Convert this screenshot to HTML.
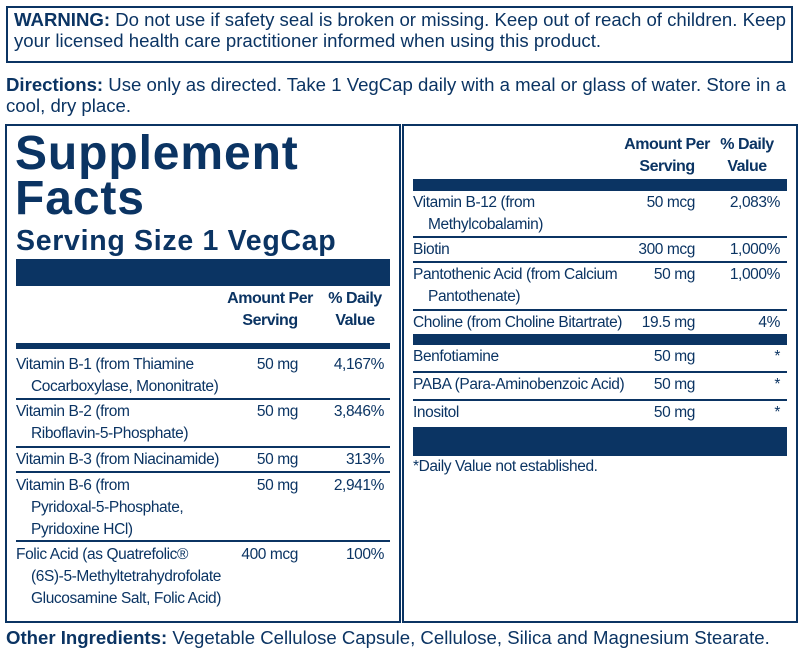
<!DOCTYPE html>
<html><head><meta charset="utf-8"><style>
body{margin:0;width:798px;height:654px;background:#fff;position:relative;overflow:hidden;font-family:"Liberation Sans",sans-serif;color:#0b3463}
.a{position:absolute;white-space:nowrap}
.box{position:absolute;border:2px solid #0b3463;box-sizing:border-box}
.bar{position:absolute;background:#0b3463}
.sep{position:absolute;height:2px;background:#0b3463}
.t{position:absolute;font-size:15.5px;line-height:22px;letter-spacing:-0.4px;white-space:nowrap}
.t i{font-style:normal;display:inline-block;width:15px}
.r{text-align:right}
.h{position:absolute;font-size:16px;line-height:22px;font-weight:bold;text-align:center;letter-spacing:-0.5px;white-space:nowrap}
.big{font-size:18.6px;letter-spacing:0px}
</style></head><body>
<div class="box" style="left:6px;top:6px;width:787px;height:57px"></div>
<div class="a big" style="left:14px;top:9px;line-height:21px"><b>WARNING:</b> Do not use if safety seal is broken or missing. Keep out of reach of children. Keep<br>your licensed health care practitioner informed when using this product.</div>
<div class="a big" style="left:6px;top:74px;line-height:21px"><b>Directions:</b> Use only as directed. Take 1 VegCap daily with a meal or glass of water. Store in a<br>cool, dry place.</div>

<div class="box" style="left:5px;top:124px;width:396px;height:499px"></div>
<div class="box" style="left:402px;top:124px;width:396px;height:499px"></div>

<div class="a" style="left:15px;top:131px;font-size:48px;font-weight:900;line-height:45px;letter-spacing:0.9px">Supplement<br>Facts</div>
<div class="a" style="left:16px;top:225px;font-size:28.5px;font-weight:bold;line-height:32px;letter-spacing:0.7px">Serving Size 1 VegCap</div>
<div class="bar" style="left:16px;top:259px;width:374px;height:27px"></div>
<div class="h" style="left:220px;width:100px;top:288px">Amount Per<br>Serving</div>
<div class="h" style="left:320px;width:70px;top:288px">% Daily<br>Value</div>
<div class="bar" style="left:16px;top:343px;width:374px;height:6px"></div>

<div class="t" style="left:16px;top:354px">Vitamin B-1 (from Thiamine<br><i></i>Cocarboxylase, Mononitrate)</div>
<div class="t r" style="left:200px;width:98px;top:354px">50 mg</div><div class="t r" style="left:300px;width:84px;top:354px">4,167%</div>
<div class="sep" style="left:16px;width:374px;top:398px"></div>
<div class="t" style="left:16px;top:401px">Vitamin B-2 (from<br><i></i>Riboflavin-5-Phosphate)</div>
<div class="t r" style="left:200px;width:98px;top:401px">50 mg</div><div class="t r" style="left:300px;width:84px;top:401px">3,846%</div>
<div class="sep" style="left:16px;width:374px;top:446px"></div>
<div class="t" style="left:16px;top:449px">Vitamin B-3 (from Niacinamide)</div>
<div class="t r" style="left:200px;width:98px;top:449px">50 mg</div><div class="t r" style="left:300px;width:84px;top:449px">313%</div>
<div class="sep" style="left:16px;width:374px;top:471px"></div>
<div class="t" style="left:16px;top:475px">Vitamin B-6 (from<br><i></i>Pyridoxal-5-Phosphate,<br><i></i>Pyridoxine HCl)</div>
<div class="t r" style="left:200px;width:98px;top:475px">50 mg</div><div class="t r" style="left:300px;width:84px;top:475px">2,941%</div>
<div class="sep" style="left:16px;width:374px;top:540px"></div>
<div class="t" style="left:16px;top:544px">Folic Acid (as Quatrefolic®<br><i></i>(6S)-5-Methyltetrahydrofolate<br><i></i>Glucosamine Salt, Folic Acid)</div>
<div class="t r" style="left:200px;width:98px;top:544px">400 mcg</div><div class="t r" style="left:300px;width:84px;top:544px">100%</div>

<div class="h" style="left:617px;width:100px;top:134px">Amount Per<br>Serving</div>
<div class="h" style="left:712px;width:70px;top:134px">% Daily<br>Value</div>
<div class="bar" style="left:413px;top:179px;width:374px;height:12px"></div>
<div class="t" style="left:413px;top:192px">Vitamin B-12 (from<br><i></i>Methylcobalamin)</div>
<div class="t r" style="left:595px;width:100px;top:192px">50 mcg</div><div class="t r" style="left:700px;width:80px;top:192px">2,083%</div>
<div class="sep" style="left:413px;width:374px;top:236px"></div>
<div class="t" style="left:413px;top:239px">Biotin</div>
<div class="t r" style="left:595px;width:100px;top:239px">300 mcg</div><div class="t r" style="left:700px;width:80px;top:239px">1,000%</div>
<div class="sep" style="left:413px;width:374px;top:261px"></div>
<div class="t" style="left:413px;top:264px">Pantothenic Acid (from Calcium<br><i></i>Pantothenate)</div>
<div class="t r" style="left:595px;width:100px;top:264px">50 mg</div><div class="t r" style="left:700px;width:80px;top:264px">1,000%</div>
<div class="sep" style="left:413px;width:374px;top:309px"></div>
<div class="t" style="left:413px;top:312px">Choline (from Choline Bitartrate)</div>
<div class="t r" style="left:595px;width:100px;top:312px">19.5 mg</div><div class="t r" style="left:700px;width:80px;top:312px">4%</div>
<div class="bar" style="left:413px;top:334px;width:374px;height:11px"></div>
<div class="t" style="left:413px;top:346px">Benfotiamine</div>
<div class="t r" style="left:595px;width:100px;top:346px">50 mg</div><div class="t r" style="left:700px;width:80px;top:346px">*</div>
<div class="sep" style="left:413px;width:374px;top:371px"></div>
<div class="t" style="left:413px;top:374px">PABA (Para-Aminobenzoic Acid)</div>
<div class="t r" style="left:595px;width:100px;top:374px">50 mg</div><div class="t r" style="left:700px;width:80px;top:374px">*</div>
<div class="sep" style="left:413px;width:374px;top:399px"></div>
<div class="t" style="left:413px;top:402px">Inositol</div>
<div class="t r" style="left:595px;width:100px;top:402px">50 mg</div><div class="t r" style="left:700px;width:80px;top:402px">*</div>
<div class="bar" style="left:413px;top:427px;width:374px;height:29px"></div>
<div class="t" style="left:413px;top:456px">*Daily Value not established.</div>

<div class="a big" style="left:6px;top:627px;line-height:21px"><b>Other Ingredients:</b> Vegetable Cellulose Capsule, Cellulose, Silica and Magnesium Stearate.</div>
</body></html>
